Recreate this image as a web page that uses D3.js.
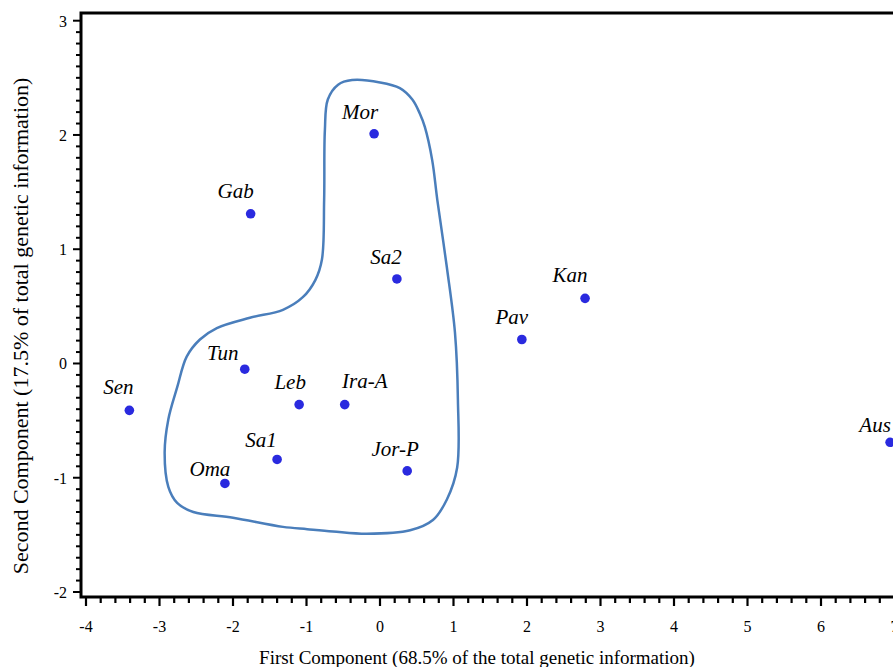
<!DOCTYPE html>
<html>
<head>
<meta charset="utf-8">
<script src="https://cdn.jsdelivr.net/npm/d3@7"></script>
<style>
  body { margin: 0; background: #fff; }
  svg text { font-family: "Liberation Serif", "Times New Roman", serif; fill: #000; }
</style>
</head>
<body>
<script>
// data
var pops = ["Mor", "Gab", "Sa2", "Kan", "Pav", "Tun", "Sen", "Leb", "Ira-A", "Sa1", "Jor-P", "Oma", "Aus"];
var pc1  = [-0.08, -1.76, 0.23, 2.79, 1.93, -1.84, -3.41, -1.10, -0.48, -1.40, 0.37, -2.11, 6.94];
var pc2  = [2.01, 1.31, 0.74, 0.57, 0.21, -0.05, -0.41, -0.36, -0.36, -0.84, -0.94, -1.05, -0.69];

// outline drawn round the middle-east / north-africa group (data units)
var hullX = [-0.38, 0.00, 0.27, 0.44, 0.54, 0.61, 0.71, 0.78, 0.91, 1.02, 1.06, 1.05, 0.91, 0.72, 0.41,
             -0.18, -0.64, -0.99, -1.32, -2.00, -2.54, -2.76, -2.88, -2.93, -2.88, -2.76, -2.63, -2.45,
             -2.22, -1.77, -1.32, -1.05, -0.88, -0.79, -0.76, -0.75, -0.71, -0.57];
var hullY = [2.48, 2.46, 2.41, 2.31, 2.19, 2.07, 1.78, 1.43, 0.84, 0.27, -0.32, -0.91, -1.19, -1.37, -1.46,
             -1.49, -1.47, -1.45, -1.43, -1.35, -1.30, -1.22, -1.08, -0.78, -0.49, -0.21, 0.06, 0.21,
             0.31, 0.40, 0.47, 0.58, 0.73, 0.91, 1.43, 2.04, 2.31, 2.44];

var xTicks = [-4, -3, -2, -1, 0, 1, 2, 3, 4, 5, 6, 7];
var yTicks = [-2, -1, 0, 1, 2, 3];

var xTitle = "First Component (68.5% of the total genetic information)";
var yTitle = "Second Component (17.5% of total genetic information)";

// label placement relative to the dot (centre dx, baseline dy)
var labelOffset = {
  "Mor": [-14, -15], "Gab": [-15, -16], "Sa2": [-11, -15], "Kan": [-15, -16], "Pav": [-10, -15],
  "Tun": [-22, -9], "Sen": [-11, -16], "Leb": [-9, -16], "Ira-A": [20, -17], "Sa1": [-16, -12],
  "Jor-P": [-12, -15], "Oma": [-15, -7], "Aus": [-15, -10]
};

var W = 893, H = 667;
var svg = d3.select("body").append("svg")
            .attr("width", W)
            .attr("height", H);

var x = d3.scaleLinear().domain([-4, 7]).range([86, 894.5]);
var y = d3.scaleLinear().domain([-2, 3]).range([592, 20.7]);

var axisLeft = 81, axisTop = 13, axisBottom = 597;

// minor + major ticks
var xMinor = d3.range(-4, 7.2, 0.2).map(function(d){ return Math.round(d*10)/10; });
var yMinor = d3.range(-2, 3.05, 0.1).map(function(d){ return Math.round(d*10)/10; });

svg.append("g")
   .selectAll("line")
   .data(xMinor)
   .enter().append("line")
   .attr("x1", function(d){ return x(d); })
   .attr("x2", function(d){ return x(d); })
   .attr("y1", axisBottom)
   .attr("y2", function(d){ return xTicks.indexOf(d) >= 0 ? axisBottom + 9 : axisBottom + 6; })
   .attr("stroke", "#000")
   .attr("stroke-width", 2.2);

svg.append("g")
   .selectAll("line")
   .data(yMinor)
   .enter().append("line")
   .attr("y1", function(d){ return y(d); })
   .attr("y2", function(d){ return y(d); })
   .attr("x1", axisLeft)
   .attr("x2", function(d){ return yTicks.indexOf(d) >= 0 ? axisLeft - 8 : axisLeft - 5; })
   .attr("stroke", "#000")
   .attr("stroke-width", 2);

// tick labels
svg.append("g")
   .selectAll("text")
   .data(xTicks)
   .enter().append("text")
   .attr("x", function(d){ return x(d); })
   .attr("y", 632)
   .attr("text-anchor", "middle")
   .style("font-size", "16px")
   .text(function(d){ return String(d); });

svg.append("g")
   .selectAll("text")
   .data(yTicks)
   .enter().append("text")
   .attr("x", 67)
   .attr("y", function(d){ return y(d) + 6; })
   .attr("text-anchor", "end")
   .style("font-size", "16px")
   .text(function(d){ return String(d); });

// frame: top, left, bottom
svg.append("path")
   .attr("d", "M" + (W + 2) + "," + axisTop + "H" + axisLeft + "V" + axisBottom + "H" + (W + 2))
   .attr("fill", "none")
   .attr("stroke", "#000")
   .attr("stroke-width", 3);

// axis titles
svg.append("text")
   .attr("x", 477)
   .attr("y", 664)
   .attr("text-anchor", "middle")
   .style("font-size", "19px")
   .text(xTitle);

svg.append("text")
   .attr("transform", "translate(28,326) rotate(-90)")
   .attr("text-anchor", "middle")
   .style("font-size", "22px")
   .text(yTitle);

// outline
var hull = d3.line()
             .x(function(d){ return x(d[0]); })
             .y(function(d){ return y(d[1]); })
             .curve(d3.curveCatmullRomClosed.alpha(0.5));

svg.append("path")
   .datum(d3.zip(hullX, hullY))
   .attr("d", hull)
   .attr("fill", "none")
   .attr("stroke", "#4a7ebb")
   .attr("stroke-width", 2.5);

// points + labels
var pts = pops.map(function(p, i){ return { name: p, x: pc1[i], y: pc2[i] }; });

svg.append("g")
   .selectAll("circle")
   .data(pts)
   .enter().append("circle")
   .attr("cx", function(d){ return x(d.x); })
   .attr("cy", function(d){ return y(d.y); })
   .attr("r", 4.8)
   .attr("fill", "#2a2adf");

svg.append("g")
   .selectAll("text")
   .data(pts)
   .enter().append("text")
   .attr("x", function(d){ return x(d.x) + labelOffset[d.name][0]; })
   .attr("y", function(d){ return y(d.y) + labelOffset[d.name][1]; })
   .attr("text-anchor", "middle")
   .style("font-size", "21px")
   .style("font-style", "italic")
   .text(function(d){ return d.name; });
</script>
</body>
</html>
